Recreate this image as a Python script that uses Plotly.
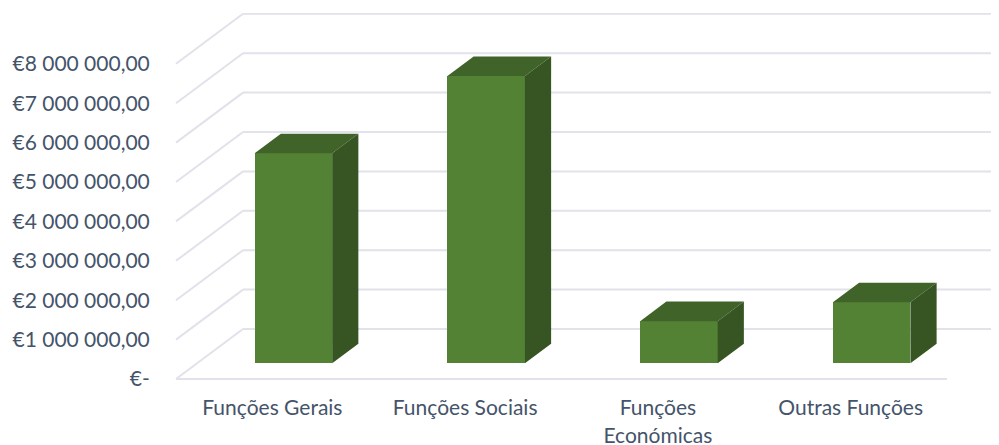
import plotly.graph_objects as go

categories = ["Funções Gerais", "Funções Sociais", "Funções<br>Económicas", "Outras Funções"]
values = [5330000, 7290000, 1070000, 1550000]
tick_values = [0, 1000000, 2000000, 3000000, 4000000, 5000000, 6000000, 7000000, 8000000]
tick_labels = ["€-", "€1 000 000,00", "€2 000 000,00", "€3 000 000,00", "€4 000 000,00",
               "€5 000 000,00", "€6 000 000,00", "€7 000 000,00", "€8 000 000,00"]

# page has an 8 px body margin
W, H = 991, 437
PAD = 4  # plot area extends this many px past the floor so its lines are not clipped
L, R, T, B = 168 - PAD, 0, 5, 66 - PAD
CAT_PX = 192.75
UNIT_PX = 39.4
Y_MIN = -PAD / UNIT_PX * 1e6
Y_MAX = Y_MIN + (H - B - T) / UNIT_PX * 1e6
X_MIN = -0.5 - PAD / CAT_PX
X_MAX = X_MIN + (W - L - R) / CAT_PX

# oblique projection: depth 1 = whole floor depth
DX = 67 / CAT_PX        # x shift in category units for depth 1
DY = 50 / UNIT_PX * 1e6 # y shift in value units for depth 1
D0, D1 = 0.314, 0.705   # bar front/back depth
BAR_W = 77.5 / CAT_PX

FRONT, TOP, SIDE = "#548235", "#40632A", "#365522"
GRID = "#E1E2EA"


def proj(x, v, d):
    return x + d * DX, v + d * DY


shapes = []
for t in tick_values:
    x0, y0 = proj(-0.5, t, 0)
    x1, y1 = proj(-0.5, t, 1)
    x2, y2 = proj(3.5, t, 1)
    if t == 0:
        x3, y3 = proj(3.5, t, 0)
        shapes.append(dict(type="line", xref="x", yref="y", x0=x0, y0=y0, x1=x3, y1=y3,
                           line=dict(color=GRID, width=2), layer="below"))
    shapes.append(dict(type="line", xref="x", yref="y", x0=x0, y0=y0, x1=x1, y1=y1,
                       line=dict(color=GRID, width=2), layer="below"))
    shapes.append(dict(type="line", xref="x", yref="y", x0=x1, y0=y1, x1=x2, y1=y2,
                       line=dict(color=GRID, width=2), layer="below"))

fig = go.Figure()

cx = list(range(len(categories)))
fx = [proj(c, 0, D0)[0] for c in cx]
fbase = proj(0, 0, D0)[1]
fig.add_trace(go.Bar(x=fx, y=values, base=fbase, width=BAR_W,
                     marker=dict(color=FRONT, line=dict(width=0)), showlegend=False,
                     hoverinfo="skip"))

for c, v in zip(cx, values):
    xl = c - BAR_W / 2
    xr = c + BAR_W / 2
    top_pts = [proj(xl, v, D0), proj(xr, v, D0), proj(xr, v, D1), proj(xl, v, D1)]
    side_pts = [proj(xr, 0, D0), proj(xr, v, D0), proj(xr, v, D1), proj(xr, 0, D1)]
    for pts, col in ((top_pts, TOP), (side_pts, SIDE)):
        fig.add_trace(go.Scatter(x=[p[0] for p in pts] + [pts[0][0]],
                                 y=[p[1] for p in pts] + [pts[0][1]],
                                 mode="lines", fill="toself", fillcolor=col,
                                 line=dict(width=0, color=col), showlegend=False,
                                 hoverinfo="skip"))

fig.update_layout(
    width=W, height=H,
    margin=dict(l=L, r=R, t=T, b=B, pad=0),
    paper_bgcolor="white", plot_bgcolor="white",
    font=dict(family="Lato, Carlito, sans-serif", size=21, color="#44546A"),
    shapes=shapes, showlegend=False, bargap=0,
    xaxis=dict(range=[X_MIN, X_MAX], tickmode="array", tickvals=cx, ticktext=categories,
               showgrid=False, zeroline=False, showline=False, ticks="outside", automargin=False,
               ticklen=6, tickcolor="rgba(0,0,0,0)"),
    yaxis=dict(range=[Y_MIN, Y_MAX], tickmode="array", tickvals=tick_values, ticktext=tick_labels,
               showgrid=False, zeroline=False, showline=False, ticks="outside", automargin=False,
               ticklen=17, tickcolor="rgba(0,0,0,0)"),
)
fig.write_html("out.html")
